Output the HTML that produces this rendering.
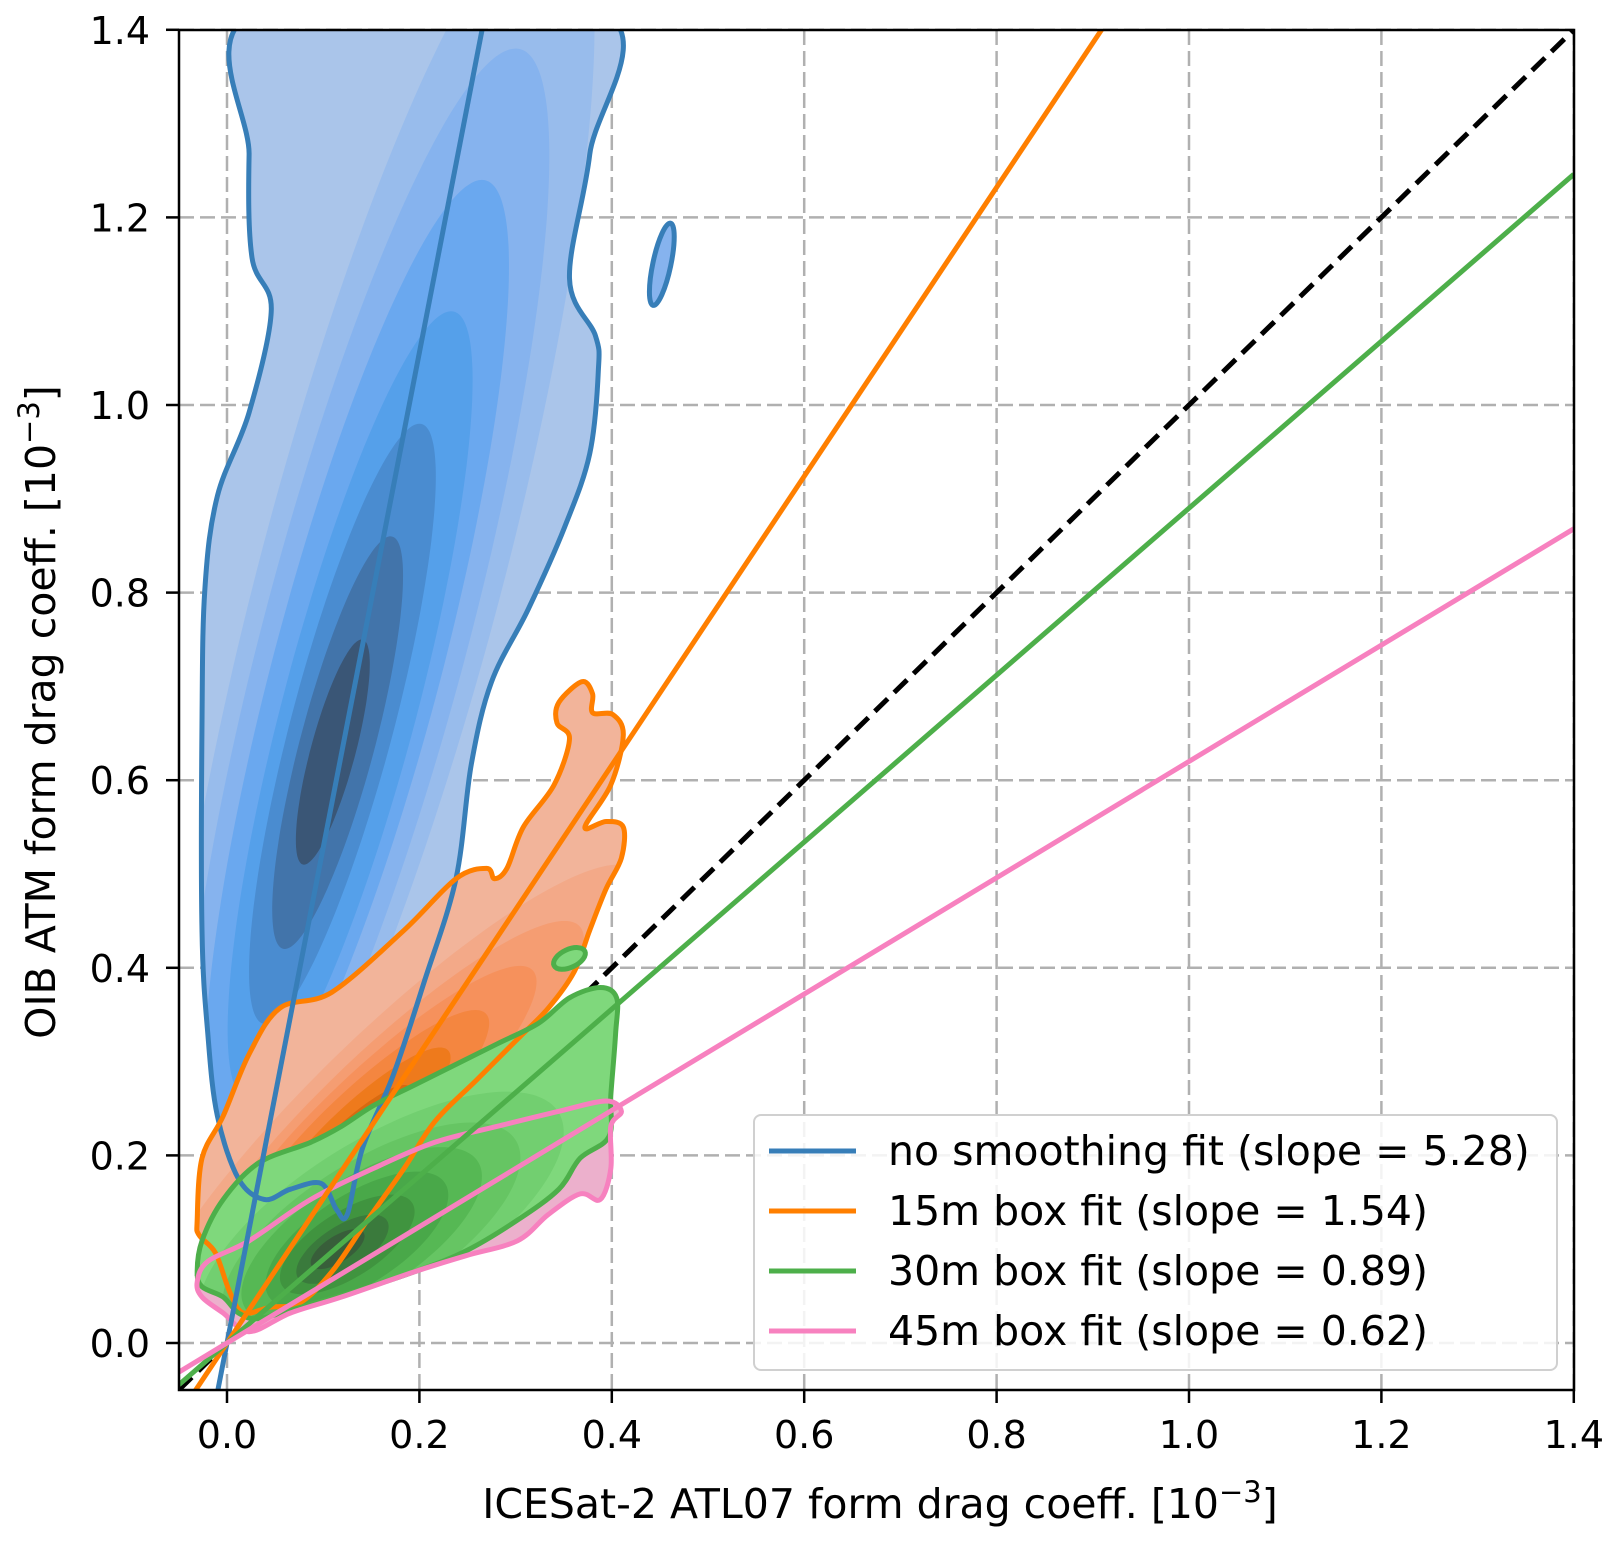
<!DOCTYPE html>
<html><head><meta charset="utf-8"><style>
html,body{margin:0;padding:0;background:#fff;}
svg{display:block;font-family:"DejaVu Sans","Liberation Sans",sans-serif;}
</style></head><body>
<svg id="chart" width="1623" height="1541" viewBox="0 0 1623 1541">
<defs id="defs"><clipPath id="plotclip"><rect x="179" y="30" width="1395" height="1360"/></clipPath></defs>
<rect x="0" y="0" width="1623" height="1541" fill="#fff"/>
<g id="grid"></g>
<g id="plot" clip-path="url(#plotclip)"></g>
<rect x="179" y="30" width="1395" height="1360" fill="none" stroke="#000" stroke-width="2.5"/>
<g id="ticks"></g>
<text x="880" y="1518" font-size="41" text-anchor="middle">ICESat-2 ATL07 form drag coeff. [10<tspan dy="-16" font-size="29">−3</tspan><tspan dy="16">]</tspan></text>
<text transform="translate(55,712) rotate(-90)" font-size="41" text-anchor="middle">OIB ATM form drag coeff. [10<tspan dy="-16" font-size="29">−3</tspan><tspan dy="16">]</tspan></text>
<g id="legend"></g>
</svg>
<script>
const xTicks=[0.0,0.2,0.4,0.6,0.8,1.0,1.2,1.4];
const yTicks=[0.0,0.2,0.4,0.6,0.8,1.0,1.2,1.4];
const seriesNames=["no smoothing fit (slope = 5.28)","15m box fit (slope = 1.54)","30m box fit (slope = 0.89)","45m box fit (slope = 0.62)"];
const slopes=[5.28,1.54,0.89,0.62];
const seriesColors=["#377eb8","#ff7f00","#4daf4a","#f781bf"];
const blueContour=[[0.012,0.175],[-0.010,0.242],[-0.020,0.330],[-0.026,0.44],[-0.026,0.661],[-0.023,0.804],[-0.010,0.903],[0.023,0.992],[0.046,1.102],[0.026,1.157],[0.023,1.267],[0.031,1.42],[0.388,1.42],[0.377,1.267],[0.356,1.135],[0.383,1.074],[0.386,1.036],[0.377,0.948],[0.351,0.870],[0.313,0.782],[0.275,0.705],[0.254,0.617],[0.238,0.495],[0.205,0.385],[0.173,0.286],[0.141,0.208],[0.125,0.137],[0.114,0.142],[0.098,0.170],[0.066,0.164],[0.039,0.153]];
const orangeContour=[[-0.031,0.131],[-0.026,0.197],[-0.004,0.242],[0.023,0.308],[0.055,0.357],[0.109,0.374],[0.184,0.440],[0.238,0.495],[0.270,0.506],[0.278,0.495],[0.291,0.506],[0.308,0.550],[0.340,0.595],[0.356,0.644],[0.343,0.661],[0.345,0.683],[0.369,0.705],[0.380,0.692],[0.380,0.672],[0.401,0.670],[0.412,0.648],[0.399,0.595],[0.372,0.550],[0.394,0.556],[0.412,0.550],[0.410,0.517],[0.394,0.484],[0.377,0.440],[0.361,0.396],[0.334,0.357],[0.302,0.324],[0.259,0.280],[0.216,0.236],[0.184,0.186],[0.146,0.131],[0.109,0.076],[0.076,0.043],[0.044,0.038],[0.017,0.032],[0.003,0.054],[-0.012,0.096],[-0.029,0.115]];
const greenContour=[[-0.031,0.076],[-0.026,0.109],[-0.004,0.153],[0.033,0.192],[0.087,0.214],[0.119,0.231],[0.152,0.253],[0.195,0.275],[0.238,0.297],[0.281,0.319],[0.324,0.341],[0.356,0.368],[0.388,0.379],[0.405,0.368],[0.404,0.330],[0.399,0.264],[0.397,0.220],[0.367,0.197],[0.345,0.164],[0.302,0.131],[0.248,0.098],[0.195,0.076],[0.130,0.054],[0.076,0.038],[0.033,0.026],[0.012,0.032],[-0.004,0.049],[-0.026,0.060]];
const pinkContour=[[-0.031,0.065],[-0.020,0.087],[0.023,0.109],[0.087,0.153],[0.152,0.186],[0.216,0.214],[0.281,0.231],[0.345,0.247],[0.394,0.258],[0.410,0.247],[0.399,0.231],[0.399,0.186],[0.388,0.153],[0.367,0.159],[0.334,0.137],[0.302,0.109],[0.248,0.093],[0.195,0.076],[0.119,0.049],[0.066,0.032],[0.023,0.012],[-0.004,0.032],[-0.026,0.049]];
const blueLevels=[[0.16,0.82,0.72,0.13],[0.145,0.76,0.62,0.11],[0.135,0.72,0.52,0.09],[0.128,0.68,0.42,0.072],[0.12,0.66,0.32,0.055],[0.115,0.64,0.22,0.04],[0.11,0.63,0.12,0.024]];
const orangeLevels=[[0.17,0.25,0.26,0.11],[0.16,0.24,0.21,0.09],[0.15,0.232,0.17,0.075],[0.14,0.225,0.13,0.06],[0.135,0.22,0.095,0.045],[0.13,0.215,0.06,0.03],[0.125,0.21,0.032,0.017]];
const greenLevels=[[0.16,0.13,0.10,0.19],[0.15,0.12,0.085,0.155],[0.14,0.115,0.07,0.125],[0.135,0.11,0.055,0.095],[0.125,0.105,0.04,0.07],[0.12,0.10,0.028,0.048],[0.115,0.10,0.016,0.028]];
const pinkLevels=[];
const ridgeSlopes=[4.0,1.1,0.5,0.5];
const blueFills=["#aac5ea","#98bcec","#86b3ee","#6aa8ef","#55a0ea","#4a8cd0","#4274aa","#3a5676"];
const orangeFills=["#f2b49a","#f3a988","#f59d72","#f6915c","#f48640","#ee7a1c","#d86a10","#a8560e"];
const greenFills=["#7fd87c","#72cf70","#66c563","#56b854","#49a849","#40943f","#3a7a3c","#385e3a"];
const pinkFills=["#ecb0cc"];

const X0=227, XS=962, Y0=1343, YS=938;
function sx(v){return X0+v*XS;}
function sy(v){return Y0-v*YS;}
const NS="http://www.w3.org/2000/svg";
function mk(tag,attrs,parent){const e=document.createElementNS(NS,tag);for(const k in attrs)e.setAttribute(k,attrs[k]);parent.appendChild(e);return e;}
function smoothPath(pts){
  const p=pts.map(q=>[sx(q[0]),sy(q[1])]);const n=p.length;let d=`M${p[0][0]},${p[0][1]}`;
  for(let i=0;i<n;i++){const p0=p[(i-1+n)%n],p1=p[i],p2=p[(i+1)%n],p3=p[(i+2)%n];
    const c1=[p1[0]+(p2[0]-p0[0])/6,p1[1]+(p2[1]-p0[1])/6],c2=[p2[0]-(p3[0]-p1[0])/6,p2[1]-(p3[1]-p1[1])/6];
    d+=`C${c1[0].toFixed(1)},${c1[1].toFixed(1)} ${c2[0].toFixed(1)},${c2[1].toFixed(1)} ${p2[0].toFixed(1)},${p2[1].toFixed(1)}`;}
  return d+"Z";}
function ridgeShape(lv,k){
  const pts=[];const [cx,cy,A,B]=lv;
  for(let i=0;i<48;i++){const t=i/48*2*Math.PI;
    if(k>=1){pts.push([cx+A*Math.cos(t)/k+B*Math.sin(t),cy+A*Math.cos(t)]);}
    else{pts.push([cx+B*Math.cos(t),cy+B*Math.cos(t)*k+A*Math.sin(t)]);}}
  return pts;}
const defs=document.getElementById('defs');
const grid=document.getElementById('grid'), plot=document.getElementById('plot'), ticks=document.getElementById('ticks');
xTicks.forEach(t=>{
  const l=mk('line',{x1:sx(t),x2:sx(t),y1:30,y2:1390,stroke:'#b0b0b0','stroke-width':2.5,'stroke-dasharray':'15,6'},grid);
  
  
  const tk=mk('line',{x1:sx(t),x2:sx(t),y1:1390,y2:1403,stroke:'#000','stroke-width':2.5},ticks);
  
  
  const tx=mk('text',{x:sx(t),y:1448,'font-size':38,'text-anchor':'middle'},ticks);tx.textContent=t.toFixed(1);
  
  
});
yTicks.forEach(t=>{
  const l=mk('line',{x1:179,x2:1574,y1:sy(t),y2:sy(t),stroke:'#b0b0b0','stroke-width':2.5,'stroke-dasharray':'15,6'},grid);
  
  
  const tk=mk('line',{x1:166,x2:179,y1:sy(t),y2:sy(t),stroke:'#000','stroke-width':2.5},ticks);
  
  
  const tx=mk('text',{x:150,y:sy(t)+14,'font-size':38,'text-anchor':'end'},ticks);tx.textContent=t.toFixed(1);
  
  
});
const oneOne=mk('line',{x1:sx(-0.05),y1:sy(-0.05),x2:sx(1.4),y2:sy(1.4),stroke:'#000','stroke-width':5,'stroke-dasharray':'18,9'},plot);


function drawFills(outer,lvls,k,fills,name){
  const d=smoothPath(outer);
  const cp=mk('clipPath',{id:'clip-'+name},defs);
  mk('path',{d:d},cp);
  const g=mk('g',{'clip-path':`url(#clip-${name})`},plot);
  
  
  const p0=mk('path',{d:d,fill:fills[0]},g);
  
  
  lvls.forEach((lv,i)=>{const p=mk('path',{d:smoothPath(ridgeShape(lv,k)),fill:fills[i+1]},g);
    
    });
}
drawFills(blueContour,blueLevels,ridgeSlopes[0],blueFills,'blue');
drawFills(orangeContour,orangeLevels,ridgeSlopes[1],orangeFills,'orange');
drawFills(pinkContour,pinkLevels,ridgeSlopes[3],pinkFills,'pink');
drawFills(greenContour,greenLevels,ridgeSlopes[2],greenFills,'green');
const outlines=[[blueContour,0],[orangeContour,1],[greenContour,2],[pinkContour,3]];
outlines.forEach(o=>{const p=mk('path',{d:smoothPath(o[0]),fill:'none',stroke:seriesColors[o[1]],'stroke-width':5},plot);
  
  });
const gBlob=mk('ellipse',{cx:sx(0.356),cy:sy(0.41),rx:17,ry:9,fill:'#7fd87c',stroke:'#4daf4a','stroke-width':5,transform:`rotate(-25 ${sx(0.356)} ${sy(0.41)})`},plot);


const bBlob=mk('ellipse',{cx:sx(0.452),cy:sy(1.15),rx:9,ry:42,fill:'#86b3ee',stroke:'#377eb8','stroke-width':5,transform:`rotate(12 ${sx(0.452)} ${sy(1.15)})`},plot);


slopes.forEach((s,i)=>{
  const xa=-0.05,xb=1.4;
  const l=mk('line',{x1:sx(xa),y1:sy(s*xa),x2:sx(xb),y2:sy(s*xb),stroke:seriesColors[i],'stroke-width':5},plot);
  
  
});
const lg=document.getElementById('legend');
const box=mk('rect',{x:754,y:1115,width:803,height:255,rx:7,fill:'#fff','fill-opacity':0.85,stroke:'#d0d0d0','stroke-width':2},lg);


seriesNames.forEach((n,i)=>{
  const y=1151+i*60;
  const l=mk('line',{x1:769,x2:856,y1:y,y2:y,stroke:seriesColors[i],'stroke-width':5},lg);
  
  
  const t=mk('text',{x:888,y:y+14,'font-size':41},lg);t.textContent=n;
  
  
});
</script>
</body></html>
